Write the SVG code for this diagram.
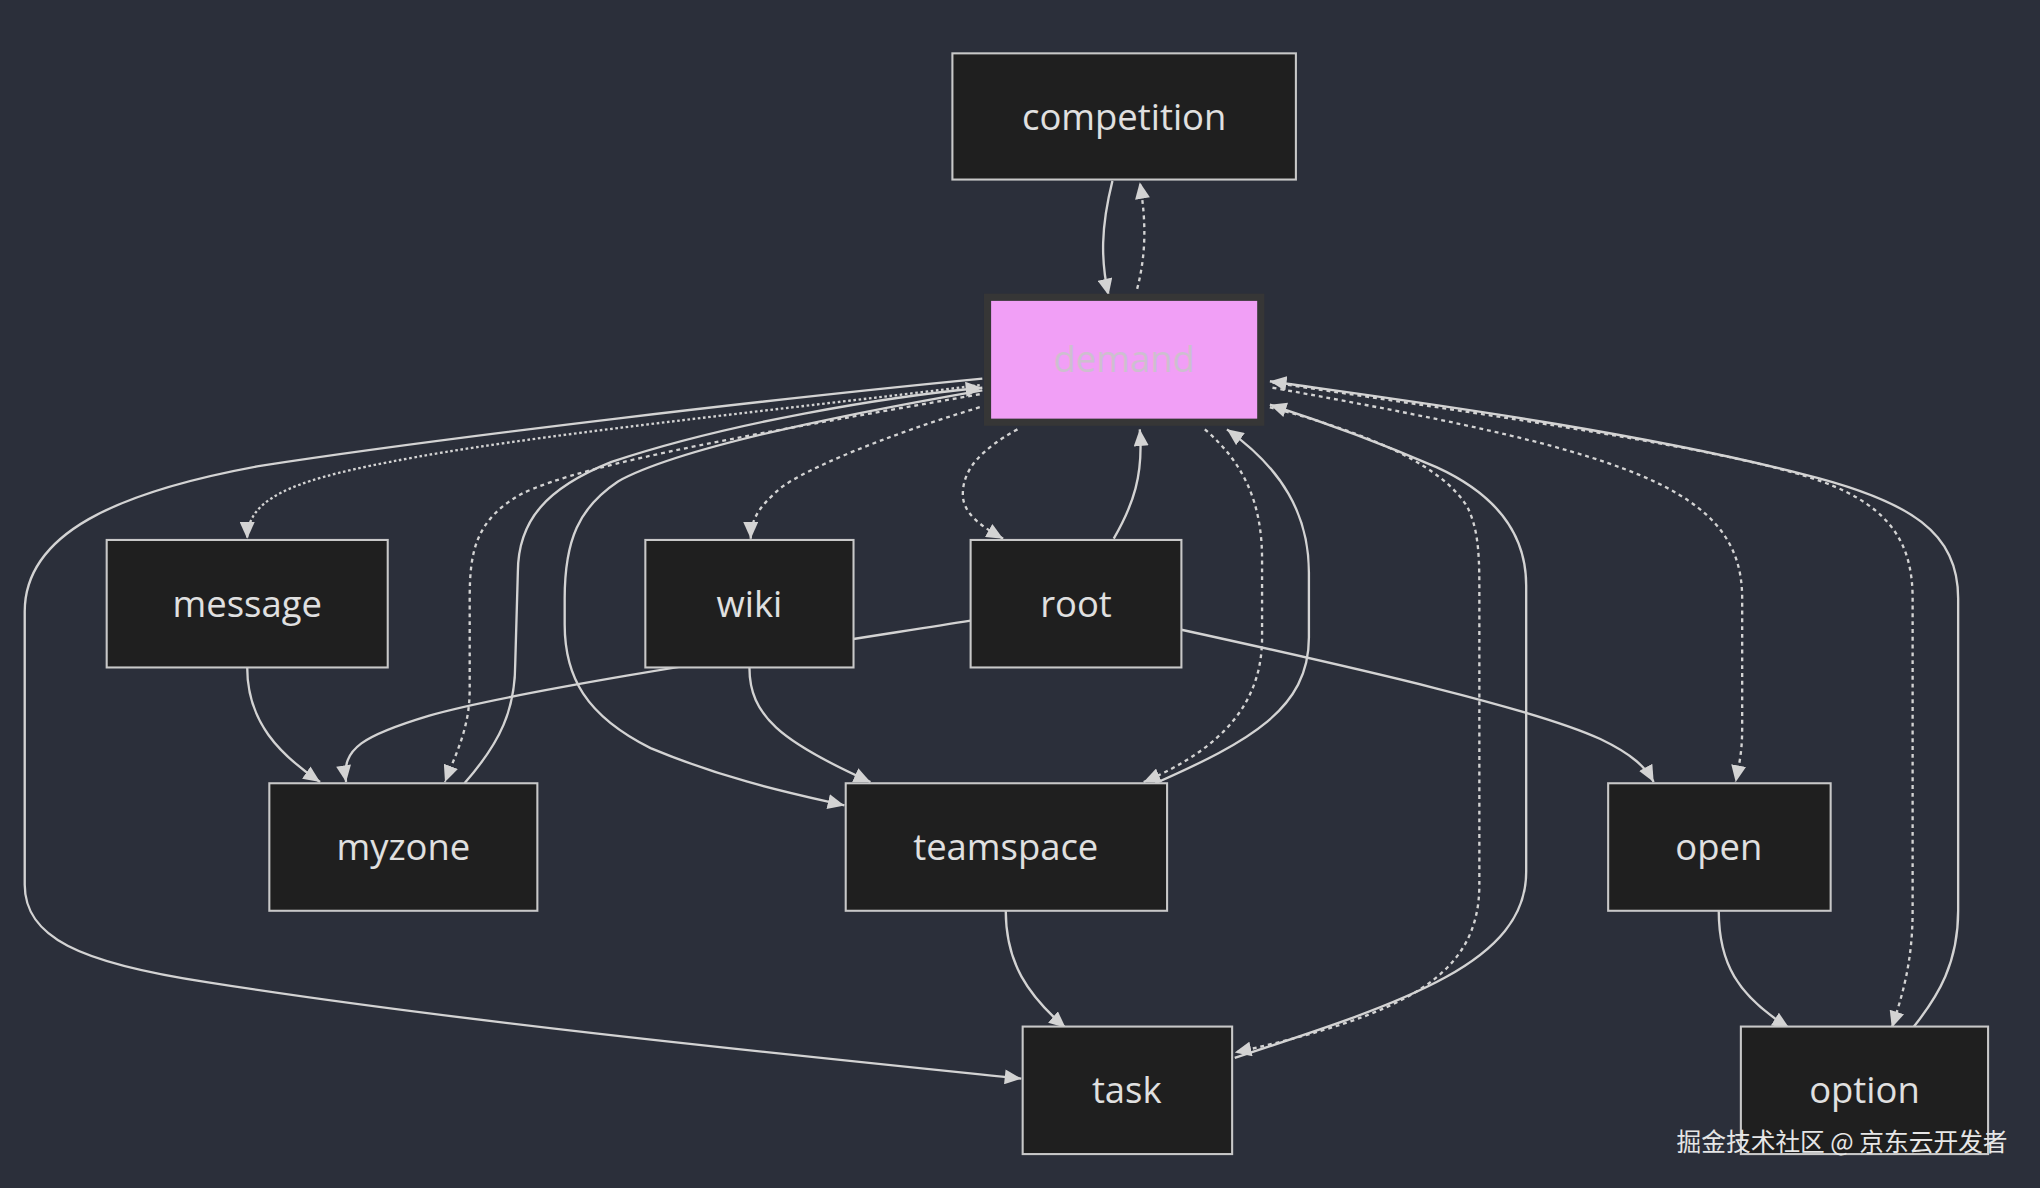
<svg xmlns="http://www.w3.org/2000/svg" width="2040" height="1188" viewBox="0 0 2040 1188">
<style>
.bg{fill:#2b2f3a}
.node rect{fill:#1f1f1f;stroke:#c8c8c8;stroke-width:1.6}
.node text{font-family:"Open Sans","Liberation Sans",sans-serif;font-size:28px;font-weight:500;fill:#e0e0e0;text-anchor:middle}
#demand rect{fill:#f19ff6;stroke:#363636;stroke-width:5.5}
#demand text{fill:#cdbfcf}
.e{fill:none;stroke:#d3d3d3;stroke-width:1.8}
.d{stroke-dasharray:3 3}
.f{stroke-dasharray:2 2}
.wm{font-family:"Noto Sans CJK SC","Noto Sans",sans-serif;font-size:19px;fill:#e6e6e6;text-anchor:end}
</style>
<defs>
<marker id="ah" viewBox="0 0 10 9" refX="10" refY="4.5" markerWidth="13" markerHeight="11.5" markerUnits="userSpaceOnUse" orient="auto">
<path d="M0,0 L10,4.5 L0,9 z" fill="#d3d3d3"/>
</marker>
</defs>
<rect class="bg" x="0" y="0" width="2040" height="1188"/>
<g transform="scale(1.3011)">
<g id="connectors">
<path class="e" marker-end="url(#ah)" d="M855,139 C846,175 846,200 852,227"/>
<path class="e d" marker-end="url(#ah)" d="M874,222 C881,195 881,170 876,140"/>
<path class="e" marker-end="url(#ah)" d="M755,291 C600,306 350,335 200,358 C90,378 19,410 19,470 L19,680 C19,720 60,740 160,755 C350,785 600,810 785,829"/>
<path class="e f" marker-end="url(#ah)" d="M753,296 C600,315 400,335 300,355 C220,370 190,385 190,414"/>
<path class="e d" marker-end="url(#ah)" d="M753,303 C600,330 450,355 400,380 C365,400 361,425 361,460 L361,530 C361,560 350,580 342,601"/>
<path class="e" marker-end="url(#ah)" d="M357,602 C385,570 396,545 396,510 L398,440 C398,400 420,375 470,355 C560,325 680,305 755,298"/>
<path class="e" marker-end="url(#ah)" d="M755,300 C640,320 520,345 475,370 C445,390 434,415 434,460 L434,480 C434,520 450,550 500,575 C560,600 610,610 649,619"/>
<path class="e d" marker-end="url(#ah)" d="M753,313 C680,335 620,360 600,375 C585,388 577,398 577,414"/>
<path class="e d" marker-end="url(#ah)" d="M782,330 C755,345 740,360 740,380 C740,395 755,405 771,414"/>
<path class="e" marker-end="url(#ah)" d="M856,414 C871,388 879,365 876,330"/>
<path class="e" marker-end="url(#ah)" d="M746,477 C600,500 400,530 330,550 C280,565 262,575 266,601"/>
<path class="e" marker-end="url(#ah)" d="M190,513 C190,555 215,580 246,601"/>
<path class="e" marker-end="url(#ah)" d="M576,513 C576,550 600,570 669,601"/>
<path class="e" marker-end="url(#ah)" d="M908,484 C1050,515 1180,545 1230,568 C1255,580 1265,590 1271,601"/>
<path class="e d" marker-end="url(#ah)" d="M926,330 C955,355 970,385 970,430 L970,490 C970,540 940,575 879,601"/>
<path class="e" marker-end="url(#ah)" d="M888,602 C960,570 1006,545 1006,490 L1006,440 C1006,395 985,360 943,330"/>
<path class="e d" marker-end="url(#ah)" d="M976,313 C1060,335 1110,360 1128,390 C1135,405 1137,420 1137,450 L1137,680 C1137,750 1080,780 949,809"/>
<path class="e" marker-end="url(#ah)" d="M949,813 C1080,770 1173,740 1173,670 L1173,450 C1173,410 1150,380 1104,359 C1060,340 1010,322 976,311"/>
<path class="e d" marker-end="url(#ah)" d="M978,298 C1100,320 1200,340 1260,365 C1320,390 1339,420 1339,460 L1339,560 C1339,580 1336,590 1334,601"/>
<path class="e d" marker-end="url(#ah)" d="M978,294 C1150,320 1330,345 1400,370 C1455,390 1470,420 1470,460 L1470,700 C1470,740 1462,765 1454,790"/>
<path class="e" marker-end="url(#ah)" d="M1471,789 C1490,765 1505,740 1505,700 L1505,460 C1505,410 1470,385 1384,364 C1250,330 1080,308 976,293"/>
<path class="e" marker-end="url(#ah)" d="M773,700 C773,740 790,765 819,790"/>
<path class="e" marker-end="url(#ah)" d="M1321,700 C1321,740 1335,765 1375,790"/>
</g>
<g id="competition" class="node"><rect x="732" y="41" width="264" height="97"/><text x="864" y="100">competition</text></g>
<g id="demand" class="node"><rect x="759" y="228.5" width="210" height="96"/><text x="864" y="286">demand</text></g>
<g id="message" class="node"><rect x="82" y="415" width="216" height="98"/><text x="190" y="474">message</text></g>
<g id="wiki" class="node"><rect x="496" y="415" width="160" height="98"/><text x="576" y="474">wiki</text></g>
<g id="root" class="node"><rect x="746" y="415" width="162" height="98"/><text x="827" y="474">root</text></g>
<g id="myzone" class="node"><rect x="207" y="602" width="206" height="98"/><text x="310" y="661">myzone</text></g>
<g id="teamspace" class="node"><rect x="650" y="602" width="247" height="98"/><text x="773" y="661">teamspace</text></g>
<g id="open" class="node"><rect x="1236" y="602" width="171" height="98"/><text x="1321" y="661">open</text></g>
<g id="task" class="node"><rect x="786" y="789" width="161" height="98"/><text x="866" y="848">task</text></g>
<g id="option" class="node"><rect x="1338" y="789" width="190" height="98"/><text x="1433" y="848">option</text></g>
<text class="wm" x="1543" y="885">掘金技术社区 @ 京东云开发者</text>
</g>
</svg>
